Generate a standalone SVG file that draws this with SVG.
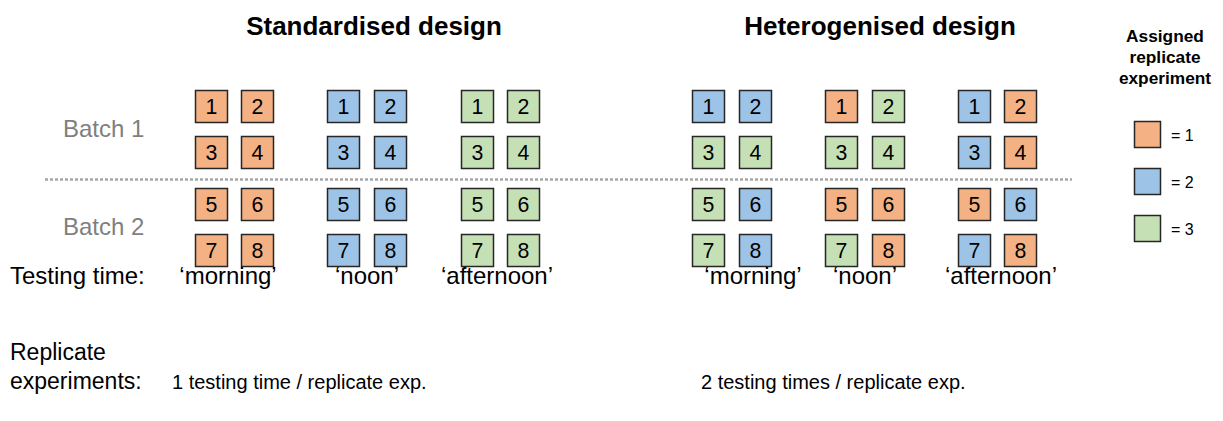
<svg xmlns="http://www.w3.org/2000/svg" width="1223" height="421" viewBox="0 0 1223 421">
<style>
text{font-family:"Liberation Sans",Arial,sans-serif;fill:#000}
.t{font-size:26px;font-weight:bold}
.lt{font-size:17.3px;font-weight:bold}
.n{font-size:21.3px}
.b{font-size:24px;fill:#7F7F7F}
.l{font-size:24px}
.r{font-size:23px}
.p{font-size:20px}
.le{font-size:16px}
.sq{stroke:#262626;stroke-width:1.5}
.o{fill:#F4B183}.u{fill:#9DC3E6}.g{fill:#C5E0B4}
</style>
<rect width="1223" height="421" fill="#fff"/>
<g id="titles">
<text class="t" x="374" y="35" text-anchor="middle">Standardised design</text>
<text class="t" x="880" y="35" text-anchor="middle">Heterogenised design</text>
</g>
<g id="legend">
<text class="lt" x="1165" y="42" text-anchor="middle">Assigned</text>
<text class="lt" x="1165" y="63" text-anchor="middle">replicate</text>
<text class="lt" x="1165" y="84" text-anchor="middle">experiment</text>
<g id="leg1"><rect class="sq o" x="1134.5" y="121.5" width="26" height="26"/><text class="le" x="1171" y="140.5">= 1</text></g>
<g id="leg2"><rect class="sq u" x="1134.5" y="168.5" width="26" height="26"/><text class="le" x="1171" y="187.5">= 2</text></g>
<g id="leg3"><rect class="sq g" x="1134.5" y="215.5" width="26" height="26"/><text class="le" x="1171" y="234.5">= 3</text></g>
</g>
<g id="batches">
<text class="b" x="63" y="137">Batch 1</text>
<text class="b" x="63" y="235">Batch 2</text>
</g>
<g id="connectors">
<line x1="45" y1="179.5" x2="1072" y2="179.5" stroke="#A6A6A6" stroke-width="2.5" stroke-dasharray="3 2"/>
</g>
<g id="squares">
<g id="s1-1"><rect class="sq o" x="195.5" y="90.5" width="32" height="32"/><text class="n" x="211.5" y="114" text-anchor="middle">1</text></g>
<g id="s1-2"><rect class="sq o" x="241.5" y="90.5" width="32" height="32"/><text class="n" x="257.5" y="114" text-anchor="middle">2</text></g>
<g id="s1-3"><rect class="sq o" x="195.5" y="136.5" width="32" height="32"/><text class="n" x="211.5" y="160" text-anchor="middle">3</text></g>
<g id="s1-4"><rect class="sq o" x="241.5" y="136.5" width="32" height="32"/><text class="n" x="257.5" y="160" text-anchor="middle">4</text></g>
<g id="s1-5"><rect class="sq o" x="195.5" y="188.5" width="32" height="32"/><text class="n" x="211.5" y="212" text-anchor="middle">5</text></g>
<g id="s1-6"><rect class="sq o" x="241.5" y="188.5" width="32" height="32"/><text class="n" x="257.5" y="212" text-anchor="middle">6</text></g>
<g id="s1-7"><rect class="sq o" x="195.5" y="234.5" width="32" height="32"/><text class="n" x="211.5" y="258" text-anchor="middle">7</text></g>
<g id="s1-8"><rect class="sq o" x="241.5" y="234.5" width="32" height="32"/><text class="n" x="257.5" y="258" text-anchor="middle">8</text></g>
<g id="s2-1"><rect class="sq u" x="327.5" y="90.5" width="32" height="32"/><text class="n" x="343.5" y="114" text-anchor="middle">1</text></g>
<g id="s2-2"><rect class="sq u" x="374.5" y="90.5" width="32" height="32"/><text class="n" x="390.5" y="114" text-anchor="middle">2</text></g>
<g id="s2-3"><rect class="sq u" x="327.5" y="136.5" width="32" height="32"/><text class="n" x="343.5" y="160" text-anchor="middle">3</text></g>
<g id="s2-4"><rect class="sq u" x="374.5" y="136.5" width="32" height="32"/><text class="n" x="390.5" y="160" text-anchor="middle">4</text></g>
<g id="s2-5"><rect class="sq u" x="327.5" y="188.5" width="32" height="32"/><text class="n" x="343.5" y="212" text-anchor="middle">5</text></g>
<g id="s2-6"><rect class="sq u" x="374.5" y="188.5" width="32" height="32"/><text class="n" x="390.5" y="212" text-anchor="middle">6</text></g>
<g id="s2-7"><rect class="sq u" x="327.5" y="234.5" width="32" height="32"/><text class="n" x="343.5" y="258" text-anchor="middle">7</text></g>
<g id="s2-8"><rect class="sq u" x="374.5" y="234.5" width="32" height="32"/><text class="n" x="390.5" y="258" text-anchor="middle">8</text></g>
<g id="s3-1"><rect class="sq g" x="461.5" y="90.5" width="32" height="32"/><text class="n" x="477.5" y="114" text-anchor="middle">1</text></g>
<g id="s3-2"><rect class="sq g" x="507.5" y="90.5" width="32" height="32"/><text class="n" x="523.5" y="114" text-anchor="middle">2</text></g>
<g id="s3-3"><rect class="sq g" x="461.5" y="136.5" width="32" height="32"/><text class="n" x="477.5" y="160" text-anchor="middle">3</text></g>
<g id="s3-4"><rect class="sq g" x="507.5" y="136.5" width="32" height="32"/><text class="n" x="523.5" y="160" text-anchor="middle">4</text></g>
<g id="s3-5"><rect class="sq g" x="461.5" y="188.5" width="32" height="32"/><text class="n" x="477.5" y="212" text-anchor="middle">5</text></g>
<g id="s3-6"><rect class="sq g" x="507.5" y="188.5" width="32" height="32"/><text class="n" x="523.5" y="212" text-anchor="middle">6</text></g>
<g id="s3-7"><rect class="sq g" x="461.5" y="234.5" width="32" height="32"/><text class="n" x="477.5" y="258" text-anchor="middle">7</text></g>
<g id="s3-8"><rect class="sq g" x="507.5" y="234.5" width="32" height="32"/><text class="n" x="523.5" y="258" text-anchor="middle">8</text></g>
<g id="h1-1"><rect class="sq u" x="692.5" y="90.5" width="32" height="32"/><text class="n" x="708.5" y="114" text-anchor="middle">1</text></g>
<g id="h1-2"><rect class="sq u" x="739.5" y="90.5" width="32" height="32"/><text class="n" x="755.5" y="114" text-anchor="middle">2</text></g>
<g id="h1-3"><rect class="sq g" x="692.5" y="136.5" width="32" height="32"/><text class="n" x="708.5" y="160" text-anchor="middle">3</text></g>
<g id="h1-4"><rect class="sq g" x="739.5" y="136.5" width="32" height="32"/><text class="n" x="755.5" y="160" text-anchor="middle">4</text></g>
<g id="h1-5"><rect class="sq g" x="692.5" y="188.5" width="32" height="32"/><text class="n" x="708.5" y="212" text-anchor="middle">5</text></g>
<g id="h1-6"><rect class="sq u" x="739.5" y="188.5" width="32" height="32"/><text class="n" x="755.5" y="212" text-anchor="middle">6</text></g>
<g id="h1-7"><rect class="sq g" x="692.5" y="234.5" width="32" height="32"/><text class="n" x="708.5" y="258" text-anchor="middle">7</text></g>
<g id="h1-8"><rect class="sq u" x="739.5" y="234.5" width="32" height="32"/><text class="n" x="755.5" y="258" text-anchor="middle">8</text></g>
<g id="h2-1"><rect class="sq o" x="825.5" y="90.5" width="32" height="32"/><text class="n" x="841.5" y="114" text-anchor="middle">1</text></g>
<g id="h2-2"><rect class="sq g" x="872.5" y="90.5" width="32" height="32"/><text class="n" x="888.5" y="114" text-anchor="middle">2</text></g>
<g id="h2-3"><rect class="sq g" x="825.5" y="136.5" width="32" height="32"/><text class="n" x="841.5" y="160" text-anchor="middle">3</text></g>
<g id="h2-4"><rect class="sq g" x="872.5" y="136.5" width="32" height="32"/><text class="n" x="888.5" y="160" text-anchor="middle">4</text></g>
<g id="h2-5"><rect class="sq o" x="825.5" y="188.5" width="32" height="32"/><text class="n" x="841.5" y="212" text-anchor="middle">5</text></g>
<g id="h2-6"><rect class="sq o" x="872.5" y="188.5" width="32" height="32"/><text class="n" x="888.5" y="212" text-anchor="middle">6</text></g>
<g id="h2-7"><rect class="sq g" x="825.5" y="234.5" width="32" height="32"/><text class="n" x="841.5" y="258" text-anchor="middle">7</text></g>
<g id="h2-8"><rect class="sq o" x="872.5" y="234.5" width="32" height="32"/><text class="n" x="888.5" y="258" text-anchor="middle">8</text></g>
<g id="h3-1"><rect class="sq u" x="958.5" y="90.5" width="32" height="32"/><text class="n" x="974.5" y="114" text-anchor="middle">1</text></g>
<g id="h3-2"><rect class="sq o" x="1004.5" y="90.5" width="32" height="32"/><text class="n" x="1020.5" y="114" text-anchor="middle">2</text></g>
<g id="h3-3"><rect class="sq u" x="958.5" y="136.5" width="32" height="32"/><text class="n" x="974.5" y="160" text-anchor="middle">3</text></g>
<g id="h3-4"><rect class="sq o" x="1004.5" y="136.5" width="32" height="32"/><text class="n" x="1020.5" y="160" text-anchor="middle">4</text></g>
<g id="h3-5"><rect class="sq o" x="958.5" y="188.5" width="32" height="32"/><text class="n" x="974.5" y="212" text-anchor="middle">5</text></g>
<g id="h3-6"><rect class="sq u" x="1004.5" y="188.5" width="32" height="32"/><text class="n" x="1020.5" y="212" text-anchor="middle">6</text></g>
<g id="h3-7"><rect class="sq u" x="958.5" y="234.5" width="32" height="32"/><text class="n" x="974.5" y="258" text-anchor="middle">7</text></g>
<g id="h3-8"><rect class="sq o" x="1004.5" y="234.5" width="32" height="32"/><text class="n" x="1020.5" y="258" text-anchor="middle">8</text></g>
</g>
<g id="testing-times">
<text class="l" x="10" y="284">Testing time:</text>
<text class="l" x="228" y="284" text-anchor="middle">‘morning’</text>
<text class="l" x="367" y="284" text-anchor="middle">‘noon’</text>
<text class="l" x="497" y="284" text-anchor="middle">‘afternoon’</text>
<text class="l" x="753" y="284" text-anchor="middle">‘morning’</text>
<text class="l" x="865" y="284" text-anchor="middle">‘noon’</text>
<text class="l" x="1001" y="284" text-anchor="middle">‘afternoon’</text>
</g>
<g id="replicates">
<text class="r" x="10" y="360">Replicate</text>
<text class="r" x="10" y="389">experiments:</text>
<text class="p" x="172" y="389">1 testing time / replicate exp.</text>
<text class="p" x="701" y="389">2 testing times / replicate exp.</text>
</g>
</svg>
